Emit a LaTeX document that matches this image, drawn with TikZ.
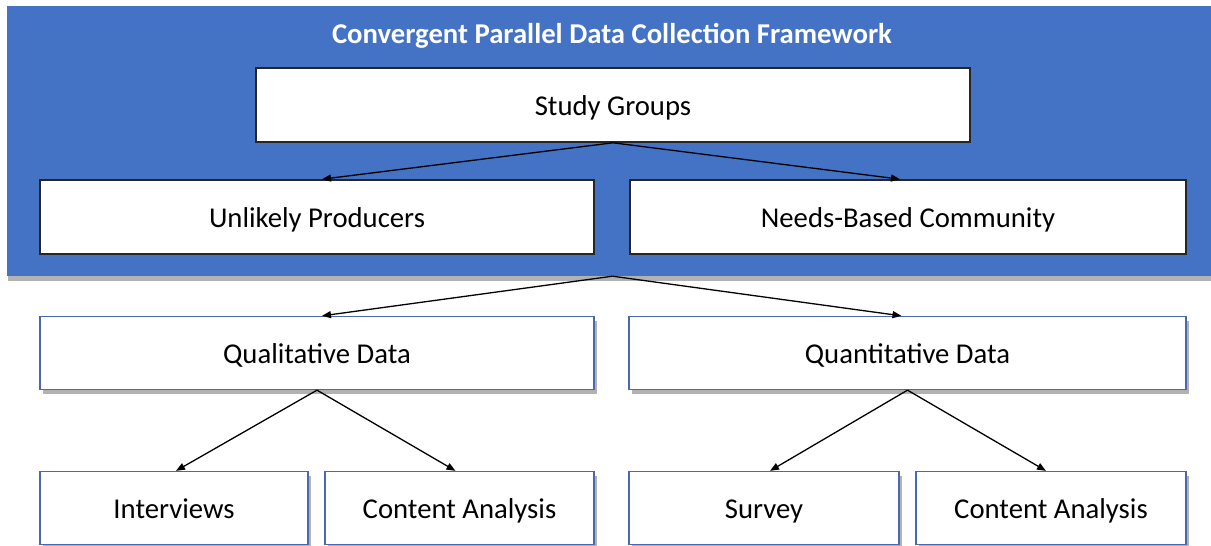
\documentclass[tikz,border=0pt]{standalone}
\usepackage{fontspec}
\setmainfont{Carlito}
\usetikzlibrary{arrows.meta,shadows}
\definecolor{frameblue}{HTML}{4472C4}
\definecolor{boxline}{HTML}{4A68B0}
\begin{document}
\begin{tikzpicture}[x=1pt,y=-1pt,
  txt/.style={font=\fontsize{28.7}{32}\selectfont, text height=20pt, text depth=0pt},
  topbox/.style={draw=black!85, line width=1.6pt, fill=white, minimum height=74pt, inner sep=0pt, txt},
  lowbox/.style={draw=boxline, line width=1.3pt, fill=white, minimum height=73pt, inner sep=0pt, txt,
    drop shadow={shadow xshift=3pt, shadow yshift=-4pt, fill=black, opacity=0.3}},
  conn/.style={-{Triangle[length=9pt,width=7pt]}, line width=1.3pt, black}]
\useasboundingbox (0,0) rectangle (1211,546);
\node[fill=frameblue, minimum width=1211pt, minimum height=270pt, inner sep=0pt,
  drop shadow={shadow xshift=1pt, shadow yshift=-5pt, fill=black, opacity=0.3}] (frame) at (612.5,141) {};
\node[text=white, font=\fontsize{28.7}{32}\selectfont\bfseries, text height=20pt, text depth=0pt, inner sep=0pt] (title) at (612,33) {Convergent Parallel Data Collection Framework};
\node[topbox, minimum width=714pt] (sg) at (613,105) {Study Groups};
\node[topbox, minimum width=554pt] (up) at (317,217) {Unlikely Producers};
\node[topbox, minimum width=556pt] (nb) at (908,217) {Needs-Based Community};
\node[lowbox, minimum width=554pt] (ql) at (317,353) {Qualitative Data};
\node[lowbox, minimum width=557pt] (qn) at (907.5,353) {Quantitative Data};
\node[lowbox, minimum width=268pt] (iv) at (174,508) {Interviews};
\node[lowbox, minimum width=269pt] (ca1) at (459.5,508) {Content Analysis};
\node[lowbox, minimum width=270pt] (sv) at (764,508) {Survey};
\node[lowbox, minimum width=270pt] (ca2) at (1051,508) {Content Analysis};
\draw[conn] (sg.south) -- ([xshift=5pt]up.north);
\draw[conn] (sg.south) -- ([xshift=-8pt]nb.north);
\draw[conn] (frame.south) -- ([xshift=5pt]ql.north);
\draw[conn] (frame.south) -- ([xshift=-6pt]qn.north);
\draw[conn] (ql.south) -- ([xshift=2pt]iv.north);
\draw[conn] (ql.south) -- ([xshift=-4pt]ca1.north);
\draw[conn] (qn.south) -- ([xshift=6pt]sv.north);
\draw[conn] (qn.south) -- ([xshift=-5pt]ca2.north);
\end{tikzpicture}
\end{document}
